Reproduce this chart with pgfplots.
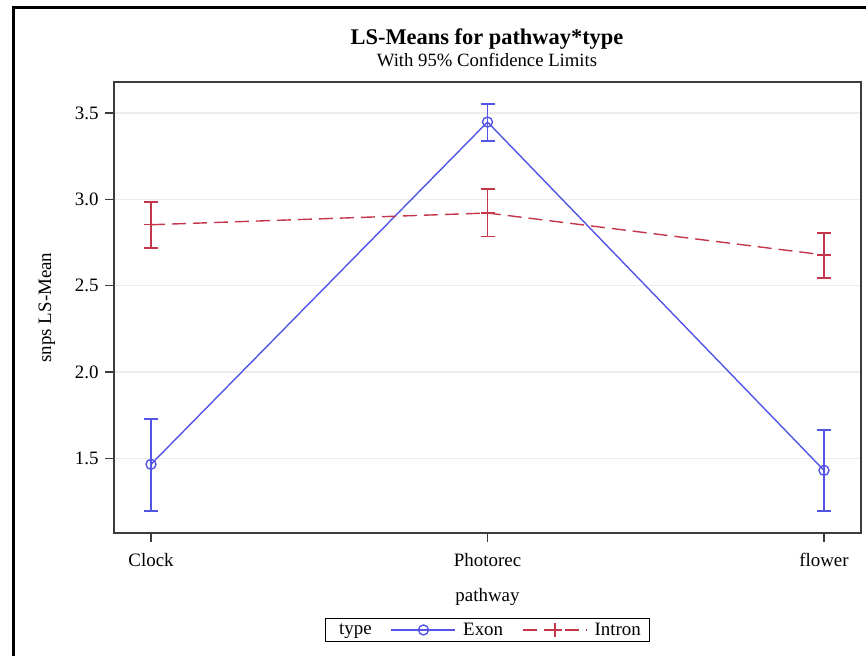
\documentclass[border=0pt]{standalone}
\usepackage{fontspec}
\setmainfont{Liberation Serif}
\usepackage{pgfplots}
\pgfplotsset{compat=1.18}

\definecolor{exon}{RGB}{84,84,230}
\definecolor{intron}{RGB}{196,54,74}
\definecolor{axisgray}{RGB}{60,60,60}
\definecolor{gridgray}{RGB}{236,236,236}

% LS-means with 95% limits: y, distance up to upper limit, distance down to lower limit
\pgfplotstableread{
x y     ep    em
0 1.465 0.261 0.270
1 3.448 0.106 0.109
2 1.430 0.234 0.235
}\exondata
\pgfplotstableread{
x y     ep    em
0 2.853 0.131 0.135
1 2.921 0.139 0.136
2 2.678 0.126 0.132
}\introndata

\newcommand{\lbl}{\fontsize{19}{22}\selectfont}

\begin{document}
\begin{tikzpicture}
\useasboundingbox (0bp,0bp) rectangle (866bp,656bp);
% outer frame (right and bottom sides fall outside the picture)
\draw[line width=3bp, black] (13bp,-5bp) -- (13bp,648bp) -- (880bp,648bp);

\node[font=\fontsize{22.5}{26}\selectfont\bfseries] at (487bp,617bp) {LS-Means for pathway*type};
\node[font=\fontsize{18.8}{22}\selectfont] at (487bp,596bp) {With 95\% Confidence Limits};

\begin{axis}[
    at={(114bp,123bp)}, anchor=south west,
    scale only axis, width=747bp, height=451bp,
    xmin=-0.11, xmax=2.11, ymin=1.067, ymax=3.68,
    xtick={0,1,2}, xticklabels={Clock,Photorec,flower},
    ytick={1.5,2.0,2.5,3.0,3.5},
    yticklabel style={xshift=-3bp, /pgf/number format/.cd, fixed, fixed zerofill, precision=1},
    xticklabel style={yshift=-8bp},
    /pgf/number format/assume math mode=true,
    ticklabel style={font=\lbl},
    tick align=outside, tick pos=left,
    major tick length=9bp,
    every tick/.style={axisgray, line width=1.5bp},
    axis line style={axisgray, line width=1.5bp},
    ymajorgrids, grid style={gridgray, line width=1.5bp},
    xlabel={pathway}, ylabel={snps LS-Mean},
    label style={font=\lbl},
    xlabel style={at={(axis description cs:0.5,-0.142)}, anchor=center},
    ylabel style={at={(axis description cs:-0.0897,0.5)}, anchor=center},
    legend columns=-1,
    legend style={at={(axis description cs:0.5,-0.215)}, anchor=center,
        draw=black, line width=1bp, font=\lbl, inner xsep=7bp, inner ysep=3bp,
        /tikz/every odd column/.append style={column sep=5bp},
        /tikz/every even column/.append style={column sep=17bp}},
    legend image code/.code={\draw[mark repeat=2, mark phase=2]
        plot coordinates {(0bp,0bp) (32bp,0bp) (64bp,0bp)};},
]
\addlegendimage{empty legend}
\addlegendentry{type}

\addplot[exon, line width=1.4bp, mark=o, mark size=5bp,
    mark options={solid, line width=1.4bp},
    error bars/.cd, y dir=both, y explicit,
    error bar style={solid, exon, line width=1.4bp},
    error mark options={rotate=90, draw=exon, mark size=7bp, line width=1.6bp}]
    table[x=x, y=y, y error plus=ep, y error minus=em] {\exondata};
\addlegendentry{Exon}

\addplot[intron, line width=1.4bp, dash pattern=on 14bp off 7bp,
    mark=+, mark size=7bp, mark options={solid, line width=1.4bp},
    error bars/.cd, y dir=both, y explicit,
    error bar style={solid, intron, line width=1.4bp},
    error mark options={rotate=90, draw=intron, mark size=7bp, line width=1.6bp}]
    table[x=x, y=y, y error plus=ep, y error minus=em] {\introndata};
\addlegendentry{Intron}
\end{axis}
\end{tikzpicture}
\end{document}
